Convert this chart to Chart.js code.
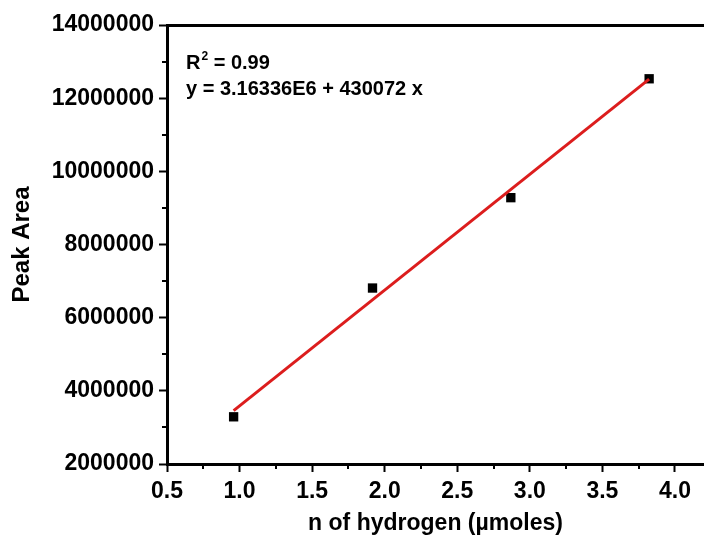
<!DOCTYPE html>
<html>
<head>
<meta charset="utf-8">
<script src="https://cdn.jsdelivr.net/npm/chart.js@4/dist/chart.umd.min.js"></script>
<style>
  html, body { margin: 0; padding: 0; background: #ffffff; }
  #wrap { width: 704px; height: 537px; }
</style>
</head>
<body>
<div id="wrap"><canvas id="chart" width="704" height="537"></canvas></div>
<script>
// Measured hydrogen amounts (µmol) and the corresponding GC peak areas
const hydrogenUmol = [0.959, 1.916, 2.869, 3.822];
const peakArea = [3.29e6, 6.81e6, 9.28e6, 12.53e6];

// End points of the fitted calibration line
const fitX = [0.959, 3.822];
const fitY = [3.46e6, 12.52e6];

// Axis ticks (major labelled, minor unlabelled)
const xTickValues = [0.5, 1.0, 1.5, 2.0, 2.5, 3.0, 3.5, 4.0];
const xMinorTicks = [0.75, 1.25, 1.75, 2.25, 2.75, 3.25, 3.75];
const yTickValues = [2000000, 4000000, 6000000, 8000000, 10000000, 12000000, 14000000];
const yMinorTicks = [3000000, 5000000, 7000000, 9000000, 11000000, 13000000];

// Fit statistics shown in the corner of the plot
const fitText = ['R', ' = 0.99'];
const equationText = 'y = 3.16336E6 + 430072 x';

const FONT = "'Liberation Sans', Arial, sans-serif";

const minorTicks = {
  id: 'minorTicks',
  afterDraw(chart) {
    const ctx = chart.ctx;
    const xs = chart.scales.x, ys = chart.scales.y;
    const area = chart.chartArea;
    ctx.save();
    ctx.strokeStyle = '#000';
    ctx.lineWidth = 2;
    xMinorTicks.forEach(v => {
      const px = Math.round(xs.getPixelForValue(v));
      ctx.beginPath();
      ctx.moveTo(px, area.bottom);
      ctx.lineTo(px, area.bottom + 5);
      ctx.stroke();
    });
    yMinorTicks.forEach(v => {
      const py = Math.round(ys.getPixelForValue(v));
      ctx.beginPath();
      ctx.moveTo(area.left, py);
      ctx.lineTo(area.left - 5, py);
      ctx.stroke();
    });
    ctx.restore();
  }
};

const fitLabel = {
  id: 'fitLabel',
  afterDraw(chart) {
    const ctx = chart.ctx;
    const area = chart.chartArea;
    const x0 = area.left + 19;
    ctx.save();
    ctx.fillStyle = '#000';
    ctx.textBaseline = 'alphabetic';
    ctx.textAlign = 'left';
    ctx.font = 'bold 20px ' + FONT;
    ctx.fillText(fitText[0], x0, 69);
    const rw = ctx.measureText(fitText[0]).width;
    ctx.font = 'bold 12px ' + FONT;
    ctx.fillText('2', x0 + rw + 1, 60);
    const sw = ctx.measureText('2').width;
    ctx.font = 'bold 20px ' + FONT;
    ctx.fillText(fitText[1], x0 + rw + 1 + sw, 69);
    ctx.fillText(equationText, x0, 95);
    ctx.restore();
  }
};

function noSidePadding(scale) {
  scale.paddingLeft = 0;
  scale.paddingRight = 0;
}

new Chart(document.getElementById('chart'), {
  type: 'scatter',
  data: {
    datasets: [
      {
        label: 'Linear fit',
        data: fitX.map((x, i) => ({ x: x, y: fitY[i] })),
        showLine: true,
        borderColor: '#dc1d1d',
        borderWidth: 3,
        pointRadius: 0,
        fill: false
      },
      {
        label: 'Peak Area',
        data: hydrogenUmol.map((x, i) => ({ x: x, y: peakArea[i] })),
        pointStyle: 'rect',
        pointRadius: 6.6,
        backgroundColor: '#000',
        borderWidth: 0
      }
    ]
  },
  options: {
    responsive: false,
    animation: false,
    layout: { autoPadding: false, padding: { left: 0, right: 0, top: 0, bottom: 0 } },
    plugins: { legend: { display: false }, tooltip: { enabled: false } },
    scales: {
      x: {
        type: 'linear',
        position: 'bottom',
        min: 0.5,
        max: 4.2,
        afterBuildTicks(scale) { scale.ticks = xTickValues.map(v => ({ value: v })); },
        afterFit(scale) { scale.height = 73; noSidePadding(scale); },
        grid: { drawOnChartArea: false, drawTicks: true, tickLength: 8, tickWidth: 2, tickColor: '#000' },
        border: { display: true, color: '#000', width: 3 },
        ticks: {
          color: '#000',
          padding: 6,
          maxRotation: 0,
          font: { family: FONT, size: 23, weight: 'bold' },
          callback: v => v.toFixed(1)
        },
        title: {
          display: true,
          text: 'n of hydrogen (\u00b5moles)',
          color: '#000',
          font: { family: FONT, size: 23, weight: 'bold', lineHeight: 1 },
          padding: { top: 0, bottom: 2 }
        }
      },
      xTop: {
        type: 'linear',
        position: 'top',
        min: 0.5,
        max: 4.2,
        afterFit(scale) { scale.height = 25; noSidePadding(scale); },
        grid: { display: false, drawTicks: false },
        border: { display: true, color: '#000', width: 3 },
        ticks: { display: false }
      },
      y: {
        type: 'linear',
        position: 'left',
        min: 2000000,
        max: 14000000,
        afterBuildTicks(scale) { scale.ticks = yTickValues.map(v => ({ value: v })); },
        afterFit(scale) { scale.width = 167; scale.paddingTop = 0; scale.paddingBottom = 0; },
        grid: { drawOnChartArea: false, drawTicks: true, tickLength: 8, tickWidth: 2, tickColor: '#000' },
        border: { display: true, color: '#000', width: 3 },
        ticks: {
          color: '#000',
          padding: 5,
          font: { family: FONT, size: 23, weight: 'bold' },
          callback: v => String(v)
        },
        title: {
          display: true,
          text: 'Peak Area',
          color: '#000',
          font: { family: FONT, size: 24, weight: 'bold' },
          padding: { top: 8, bottom: 0 }
        }
      }
    }
  },
  plugins: [minorTicks, fitLabel]
});
</script>
</body>
</html>
